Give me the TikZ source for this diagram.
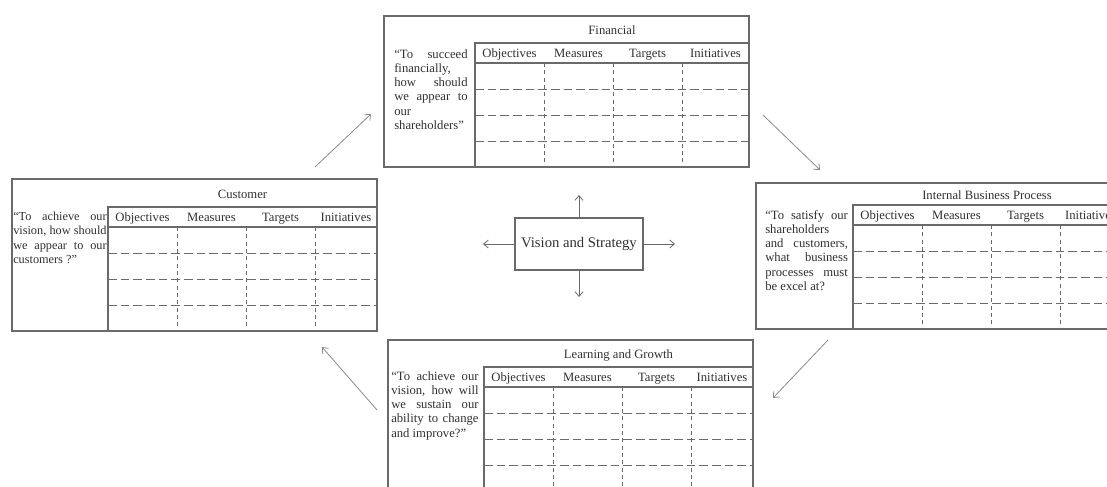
\documentclass[tikz,border=0pt]{standalone}
\usepackage{fontspec}
\setmainfont{Liberation Serif}
\usepackage{xcolor}
\usepackage{tikz}
\usetikzlibrary{arrows.meta}
\definecolor{panelGrey}{HTML}{6A6A6A}
\definecolor{inkGrey}{HTML}{303030}
\definecolor{arrowGrey}{HTML}{8A8A8A}

% one perspective: #1 name, #2 left, #3 top, #4 table top, #5 table left, #6 title
\newcommand{\bscpanel}[6]{%
  \pgfmathsetmacro\pnlR{#2+365}%
  \pgfmathsetmacro\pnlH{#4+20}%
  \pgfmathsetmacro\pnlB{#4+124}%
  \draw[panelline] (#2,#3) rectangle (\pnlR,\pnlB);
  \draw[panelline] (\pnlR,#4) -| (#5,\pnlB);
  \draw[panelline, line width=1.1pt] (#5,\pnlH) -- (\pnlR,\pnlH);
  \node[paneltitle] (#1-title) at ({(#5+\pnlR)/2},{(#3+#4)/2+5}) {#6};
  \node[colhead] (#1-obj) at ({#5+34.5},{#4+14}) {Objectives};
  \node[colhead] (#1-mea) at ({#5+103.5},{#4+14}) {Measures};
  \node[colhead] (#1-tar) at ({#5+172.5},{#4+14}) {Targets};
  \node[colhead] (#1-ini) at ({(#5+207+\pnlR)/2},{#4+14}) {Initiatives};
  \foreach \c in {1,2,3}
    \draw[vgrid] ({#5+69*\c},\pnlH) -- ({#5+69*\c},\pnlB);
  \foreach \r in {1,2,3}
    \draw[hgrid] (#5,{\pnlH+26*\r}) -- (\pnlR,{\pnlH+26*\r});
}

\begin{document}
\begin{tikzpicture}[x=0.75pt, y=-0.75pt, >={Straight Barb[length=3.5pt,width=6pt]},
    every node/.style={inner sep=0pt, text=inkGrey, font=\fontsize{9.5pt}{10.7pt}\selectfont},
    panelline/.style={draw=panelGrey, line width=0.8pt},
    vgrid/.style={draw=panelGrey, line width=0.6pt, dash pattern=on 3pt off 2.5pt},
    hgrid/.style={draw=panelGrey, line width=0.6pt, dash pattern=on 6.5pt off 3pt},
    paneltitle/.style={anchor=base},
    colhead/.style={anchor=base},
    quotetext/.style={anchor=north west, align=justify},
    vision/.style={draw=panelGrey, line width=0.8pt, minimum width=96pt, minimum height=39pt, font=\fontsize{11pt}{13pt}\selectfont},
    flow/.style={->, draw=arrowGrey, line width=0.6pt},
    hub/.style={->, draw=panelGrey, line width=0.6pt}]

    \useasboundingbox (0,0) rectangle (1107,486);
    \clip (0,0) rectangle (1107,486);

    \bscpanel{fin}{384}{16}{43}{475}{Financial}
    \bscpanel{cus}{12}{179}{207}{108}{Customer}
    \bscpanel{ibp}{756}{183}{205}{853}{Internal Business Process}
    \bscpanel{lag}{388}{340}{367}{484}{Learning and Growth}

    \node (finq) [quotetext, text width=55pt] at (394,49) {“To succeed\linebreak financially,\\ how should\linebreak we appear to\linebreak our\\ shareholders”};
    \node (cusq) [quotetext, text width=70pt, font=\fontsize{9.2pt}{10.6pt}\selectfont] at (13,212) {“To achieve our\linebreak vision, how should\linebreak we appear to our\linebreak customers ?”};
    \node (ibpq) [quotetext, text width=62pt] at (765,210) {“To satisfy our\linebreak shareholders\\ and customers,\linebreak what business\linebreak processes must\linebreak be excel at?};
    \node (lagq) [quotetext, text width=65.5pt] at (391,371) {“To achieve our\linebreak vision, how will\linebreak we sustain our\linebreak ability to change\linebreak and improve?”};

    \node (vs) [vision] at (579,244) {Vision and Strategy};
    \coordinate (vsN) at (579,195);
    \coordinate (vsS) at (579,297);
    \coordinate (vsW) at (483,244);
    \coordinate (vsE) at (675,244);
    \draw[hub] (vs.north) -- (vsN);
    \draw[hub] (vs.south) -- (vsS);
    \draw[hub] (vs.west) -- (vsW);
    \draw[hub] (vs.east) -- (vsE);

    \coordinate (c2fS) at (315,167);
    \coordinate (c2fE) at (371,114);
    \coordinate (f2iS) at (763,115);
    \coordinate (f2iE) at (820,170);
    \coordinate (i2lS) at (828,340);
    \coordinate (i2lE) at (773,398);
    \coordinate (l2cS) at (377,410);
    \coordinate (l2cE) at (322,347);
    \draw[flow] (c2fS) -- (c2fE);
    \draw[flow] (f2iS) -- (f2iE);
    \draw[flow] (i2lS) -- (i2lE);
    \draw[flow] (l2cS) -- (l2cE);
\end{tikzpicture}
\end{document}
